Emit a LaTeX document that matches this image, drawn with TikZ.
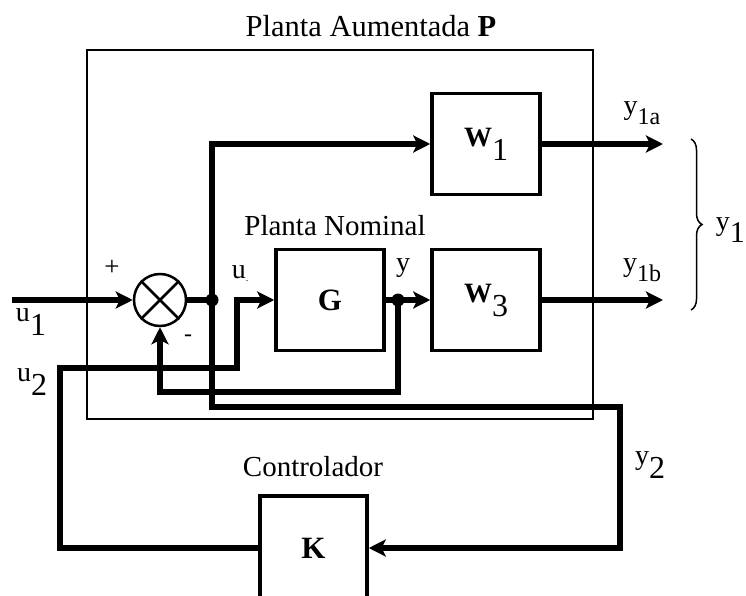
\documentclass[tikz,border=0pt]{standalone}
\usepackage{fontspec}
\setmainfont{Liberation Serif}
\usetikzlibrary{arrows.meta,decorations.pathreplacing}
\newcommand{\subl}[3]{\raisebox{-#2}{\fontsize{#3}{#3}\selectfont #1}}
\begin{document}
\begin{tikzpicture}[x=1pt,y=-1pt,
  blk/.style={draw,line width=3.5pt,minimum width=108pt,minimum height=101pt,inner sep=0pt},
  sig/.style={line width=6pt,-{Stealth[length=17pt,width=17pt,inset=4pt]}},
  wire/.style={line width=6pt},
  jdot/.style={circle,fill,inner sep=0pt,minimum size=13pt},
  txt/.style={font=\fontsize{29}{30}\selectfont,inner sep=0pt},
  lbl/.style={font=\fontsize{28}{28}\selectfont,inner sep=0pt},
  boxtxt/.style={font=\fontsize{28}{28}\selectfont},
]
\useasboundingbox (0,0) rectangle (746,596);
\fill[white] (0,0) rectangle (746,596);

% outer box (augmented plant)
\node[draw,line width=1.5pt,minimum width=506pt,minimum height=369pt,inner sep=0pt] (P) at (340,234.5) {};

% blocks
\node[blk,boxtxt] (W1) at (486,144) {\textbf{W}\subl{1}{14pt}{32}};
\node[blk,boxtxt] (W3) at (486,300) {\textbf{W}\subl{3}{14pt}{32}};
\node[blk,font=\fontsize{31}{31}\selectfont] (G) at (330,300) {\textbf{G}};
\node[blk,minimum width=107pt,minimum height=104pt,font=\fontsize{31}{31}\selectfont] (K) at (313.5,548) {\textbf{K}};
\node[circle,draw,line width=2.5pt,minimum size=52pt,inner sep=0pt] (sum) at (160,300) {};
\draw[line width=2.5pt] (sum.45) -- (sum.225) (sum.135) -- (sum.-45);

% coordinates
\coordinate (in1) at (12,300);
\coordinate (j1) at (212,300);
\coordinate (j2) at (398,300);
\coordinate (c1) at (620,407);
\coordinate (c2) at (60,368);
\coordinate (c3) at (237,368);
\coordinate (c4) at (398,392);
\coordinate (o1) at (663,144);
\coordinate (o2) at (663,300);

% connectors
\draw[sig] (in1) -- (sum.west);
\draw[wire] (sum.east) -- (j1);
\draw[sig] (j1) |- (W1.west);
\draw[sig] (j1) |- (c1) |- (K.east);
\draw[sig] (K.west) -| (c2) -- (c3) |- (G.west);
\draw[sig] (G.east) -- (W3.west);
\draw[sig] (j2) -- (c4) -| (sum.south);
\draw[sig] (W1.east) -- (o1);
\draw[sig] (W3.east) -- (o2);
\node[jdot] (d1) at (j1) {};
\node[jdot] (d2) at (j2) {};

% brace
\draw[line width=1.5pt,decorate,decoration={brace,amplitude=11pt}] (691,139) -- (691,310);

% labels
\node[inner sep=0pt,font=\fontsize{30.5}{31}\selectfont] (tP) at (371,26) {Planta Aumentada \textbf{P}};
\node[txt] (tN) at (335,226) {Planta Nominal};
\node[txt] (tK) at (313,467) {Controlador};
\node[inner sep=0pt,font=\fontsize{27}{27}\selectfont] (plus) at (112,268) {+};
\node[inner sep=0pt,font=\fontsize{24}{24}\selectfont] (minus) at (188,338) {-};
\node[lbl] (lu) at (240,274) {u\subl{.}{3pt}{10}};
\node[lbl] (ly) at (403,268) {y};
\node[lbl] (lu1) at (31,322) {u\subl{1}{14pt}{32}};
\node[lbl] (lu2) at (32,382) {u\subl{2}{14pt}{32}};
\node[lbl] (ly1a) at (642,113) {y\subl{1a}{10pt}{24}};
\node[lbl] (ly1b) at (642,270) {y\subl{1b}{10pt}{24}};
\node[lbl,anchor=east] (ly1) at (745,230) {y\subl{1}{12pt}{30}};
\node[lbl] (ly2) at (650,465) {y\subl{2}{14pt}{32}};
\end{tikzpicture}
\end{document}
